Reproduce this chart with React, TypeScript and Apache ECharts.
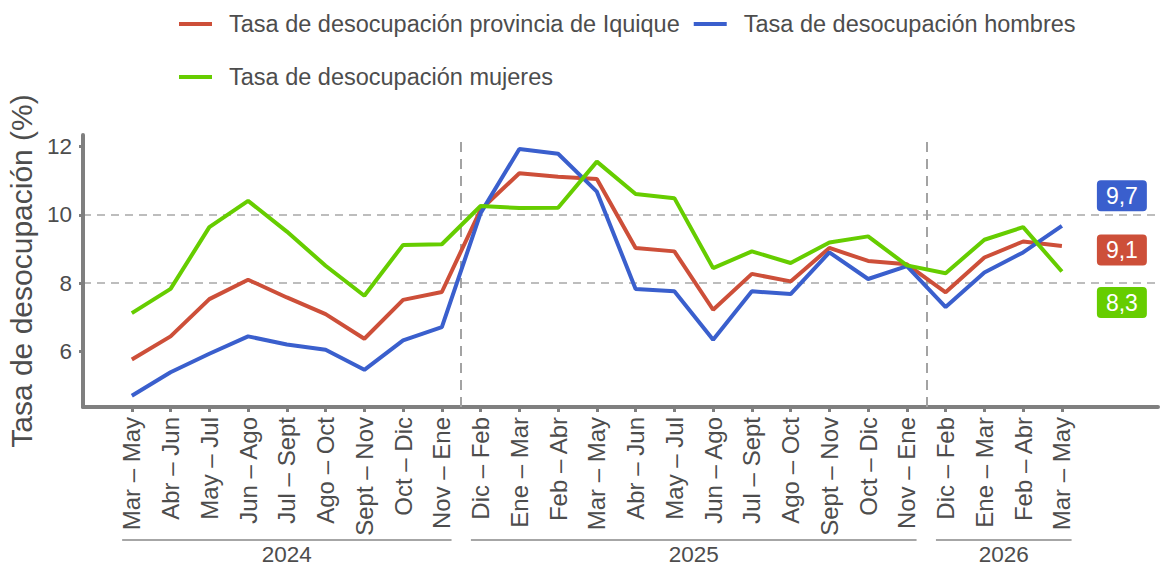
import React, { useEffect, useRef } from 'react';
import * as echarts from 'echarts';

const categories = [
  'Mar – May', 'Abr – Jun', 'May – Jul', 'Jun – Ago', 'Jul – Sept', 'Ago – Oct', 'Sept – Nov', 'Oct – Dic', 'Nov – Ene',
  'Dic – Feb', 'Ene – Mar', 'Feb – Abr', 'Mar – May', 'Abr – Jun', 'May – Jul', 'Jun – Ago', 'Jul – Sept', 'Ago – Oct',
  'Sept – Nov', 'Oct – Dic', 'Nov – Ene',
  'Dic – Feb', 'Ene – Mar', 'Feb – Abr', 'Mar – May',
];

const tasaProvincia = [5.76, 6.44, 7.53, 8.10, 7.58, 7.09, 6.37, 7.51, 7.74, 10.15, 11.22, 11.12, 11.05, 9.03, 8.93, 7.22, 8.27, 8.05, 9.03, 8.65, 8.55, 7.73, 8.75, 9.22, 9.09];
const tasaHombres = [4.70, 5.39, 5.93, 6.44, 6.20, 6.05, 5.46, 6.32, 6.71, 10.05, 11.93, 11.79, 10.68, 7.83, 7.76, 6.34, 7.76, 7.68, 8.90, 8.12, 8.50, 7.30, 8.31, 8.90, 9.68];
const tasaMujeres = [7.12, 7.83, 9.64, 10.41, 9.51, 8.51, 7.63, 9.12, 9.14, 10.26, 10.20, 10.21, 11.56, 10.61, 10.49, 8.44, 8.93, 8.59, 9.19, 9.37, 8.52, 8.29, 9.27, 9.64, 8.34];

const yTicks = [6, 8, 10, 12];
const yearLabels = ['2024', '2025', '2026'];
const yearStart = [0, 9, 21];
const yearEnd = [8, 20, 24];
const dividers = [8.5, 20.5];

const seriesNames = [
  'Tasa de desocupación provincia de Iquique',
  'Tasa de desocupación hombres',
  'Tasa de desocupación mujeres',
];
const colors = ['#CD4F39', '#3A5FCD', '#66CD00'];
const labelShift = [4, -30, 31];

const FONT = '"Liberation Sans", Arial, Helvetica, sans-serif';
const TEXT = '#4d4d4d';
const AXIS = '#7f7f7f';

const fmt = (v: number) => v.toFixed(1).replace('.', ',');

export default function App() {
  const ref = useRef<HTMLDivElement>(null);
  useEffect(() => {
    if (!ref.current) return;
    const chart = echarts.init(ref.current, undefined, { renderer: 'svg' });
    const allSeries = [tasaProvincia, tasaHombres, tasaMujeres];
    const idx = categories.map((_, i) => i);
    const legendBase = {
      icon: 'rect',
      itemWidth: 33,
      itemHeight: 4,
      itemGap: 14,
      selectedMode: false,
      padding: 0,
      textStyle: { fontSize: 23.5, color: TEXT, fontFamily: FONT, padding: [0, 0, 0, 12] },
    };
    const option: any = {
      animation: false,
      textStyle: { fontFamily: FONT },
      legend: [
        { ...legendBase, data: [seriesNames[0], seriesNames[1]], left: 179, top: 12 },
        { ...legendBase, data: [seriesNames[2]], left: 179, top: 65 },
      ],
      grid: { left: 83, right: 3, top: 135, bottom: 160, containLabel: false, outerBoundsMode: 'none' },
      xAxis: {
        type: 'value',
        min: -1.26,
        max: 26.48,
        splitLine: { show: false },
        axisLine: { show: true, onZero: false, lineStyle: { color: AXIS, width: 4 } },
        axisTick: { show: true, customValues: idx, length: 5, lineStyle: { color: AXIS, width: 3 } },
        axisLabel: {
          customValues: idx,
          formatter: (v: number) => categories[Math.round(v)] ?? '',
          rotate: 90,
          fontSize: 24,
          color: TEXT,
          fontFamily: FONT,
          margin: 10,
        },
      },
      yAxis: {
        type: 'value',
        min: 4.37,
        max: 12.34,
        name: 'Tasa de desocupación (%)',
        nameLocation: 'middle',
        nameRotate: 90,
        nameGap: 46,
        nameTextStyle: { fontSize: 30, color: TEXT, fontFamily: FONT },
        axisLine: { show: true, onZero: false, lineStyle: { color: AXIS, width: 4 } },
        axisTick: { show: true, customValues: yTicks, length: 4, lineStyle: { color: AXIS, width: 3 } },
        axisLabel: { customValues: yTicks, fontSize: 22.5, color: TEXT, fontFamily: FONT, margin: 11 },
        splitLine: {
          show: true,
          showMinLine: false,
          showMaxLine: false,
          lineStyle: { color: '#bdbdbd', width: 2, type: [8, 6] },
        },
      },
      series: [
        {
          type: 'line',
          name: '__dividers',
          data: [],
          silent: true,
          z: 1,
          markLine: {
            silent: true,
            symbol: 'none',
            z: 1,
            label: { show: false },
            lineStyle: { type: [10, 7], color: '#a3a3a3', width: 2 },
            data: dividers.map((x) => ({ xAxis: x })),
          },
        },
        ...allSeries.map((data, i) => ({
          type: 'line',
          name: seriesNames[i],
          data: data.map((v, j) => [j, v]),
          symbol: 'none',
          z: 3,
          color: colors[i],
          lineStyle: { width: 4, color: colors[i] },
          itemStyle: { color: colors[i] },
          endLabel: {
            show: true,
            formatter: (p: any) => fmt(p.value[1]),
            color: '#ffffff',
            backgroundColor: colors[i],
            borderRadius: 4,
            padding: [5, 9, 3, 9],
            fontSize: 23,
            fontFamily: FONT,
            offset: [27, labelShift[i]],
          },
        })),
      ],
    };
    chart.setOption(option);

    const px = (v: number) => chart.convertToPixel({ xAxisIndex: 0 }, v) as number;
    const graphic: any[] = [];
    yearLabels.forEach((label, g) => {
      const x1 = px(yearStart[g] - 0.25);
      const x2 = px(yearEnd[g] + 0.25);
      graphic.push({
        type: 'line',
        shape: { x1, y1: 540, x2, y2: 540 },
        style: { stroke: '#a6a6a6', lineWidth: 2 },
        silent: true,
      });
      graphic.push({
        type: 'text',
        x: (x1 + x2) / 2,
        y: 554,
        style: { text: label, fontSize: 22.5, fontFamily: FONT, fill: TEXT, align: 'center', verticalAlign: 'middle' },
        silent: true,
      });
    });
    chart.setOption({ graphic });

    return () => chart.dispose();
  }, []);
  return <div ref={ref} style={{ position: 'absolute', left: 0, top: 0, width: 1161, height: 567 }} />;
}
